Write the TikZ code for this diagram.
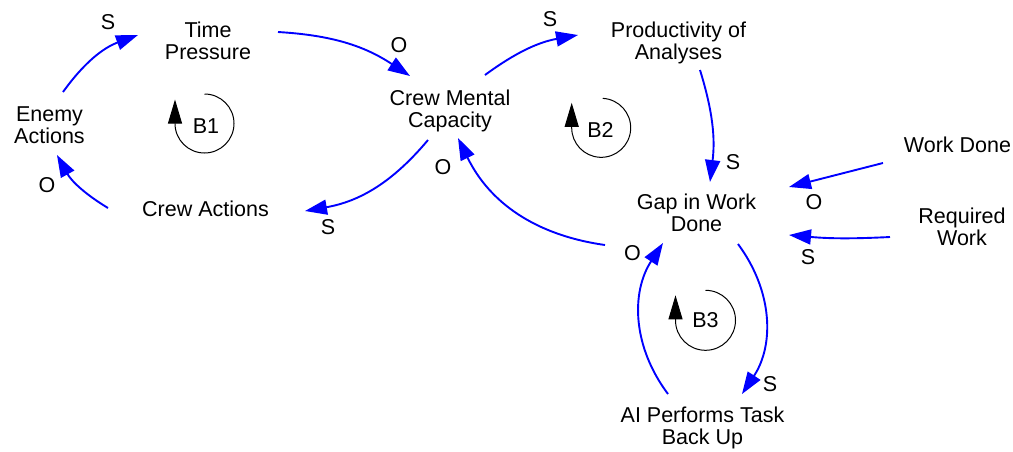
\documentclass[tikz,border=0pt]{standalone}
\usepackage{fontspec}
\setmainfont{Liberation Sans}
\usetikzlibrary{arrows.meta,calc}
\begin{document}
\begin{tikzpicture}[x=1pt,y=1pt,
  var/.style={font=\fontsize{21.5}{22}\selectfont, align=center, inner sep=0pt},
  pol/.style={font=\fontsize{21.5}{22}\selectfont, inner sep=0pt},
  link/.style={draw=blue, line width=1.9pt, -{Triangle[length=22pt,width=15pt]}},
  loopc/.style={draw=black, line width=1pt, -{Triangle[length=24pt,width=14pt]}},
]
\useasboundingbox (0,0) rectangle (1013,-451);
% variables
\node[var] (tp)   at (208,-40.5)   {Time\\Pressure};
\node[var] (ea)   at (49.5,-125)   {Enemy\\Actions};
\node[var] (ca)   at (205.5,-209)  {Crew Actions};
\node[var] (cmc)  at (450,-111.4)  {Crew Mental\\Capacity};
\node[var] (prod) at (678.5,-42.8) {Productivity of\\Analyses};
\node[var] (gap)  at (696.5,-213)  {Gap in Work\\Done};
\node[var] (wd)   at (957.5,-144.5){Work Done};
\node[var] (rw)   at (962,-226.8)  {Required\\Work};
\node[var] (ai)   at (702.5,-428)  {AI Performs Task\\Back Up};
% links
\draw[link] ($(ea)+(13.5,33)$)    to[bend left=17] ($(tp)+(-70,5.5)$);
\draw[link] ($(tp)+(70,8.5)$)     to[bend left=15] ($(cmc)+(-40,35.4)$);
\draw[link] ($(cmc)+(35,36.4)$)   to[bend left=13] ($(prod)+(-100.5,7.8)$);
\draw[link] ($(prod)+(21.5,-27.2)$) to[bend left=12] ($(gap)+(13.5,31)$);
\draw[link] ($(wd)+(-74.5,-18.5)$) -- ($(gap)+(92.5,26)$);
\draw[link] ($(rw)+(-72,-10.2)$)  to[bend left=4] ($(gap)+(92.5,-22)$);
\draw[link] ($(gap)+(-91.5,-32)$) to[bend left=28] ($(cmc)+(8,-26.6)$);
\draw[link] ($(cmc)+(-22,-28.6)$) to[bend left=20] ($(ca)+(99.5,-2)$);
\draw[link] ($(ca)+(-97.5,1)$)    to[bend left=15] ($(ea)+(7.5,-30)$);
\draw[link] ($(gap)+(41.5,-31)$)  to[bend left=35] ($(ai)+(39.5,34)$);
\draw[link] ($(ai)+(-34.5,34)$)   to[bend left=35] ($(gap)+(-33.5,-30)$);
% polarities
\node[pol] (p1)  at (108,-22.5)  {S};
\node[pol] (p2)  at (399,-45.5)  {O};
\node[pol] (p3)  at (550,-19)    {S};
\node[pol] (p4)  at (733,-162.5) {S};
\node[pol] (p5)  at (814,-202)   {O};
\node[pol] (p6)  at (808,-257.5) {S};
\node[pol] (p7)  at (443,-167)   {O};
\node[pol] (p8)  at (328,-227.5) {S};
\node[pol] (p9)  at (47,-185.5)  {O};
\node[pol] (p10) at (770,-384)   {S};
\node[pol] (p11) at (632.5,-253) {O};
% loop markers
\node[pol] (b1) at (206,-125.8) {B1};
\node[pol] (b2) at (600.5,-130) {B2};
\node[pol] (b3) at (705.5,-320.5) {B3};
\coordinate (c1) at (204.5,-123.5);
\coordinate (c2) at (601.2,-127.8);
\coordinate (c3) at (705.5,-320.3);
\draw[loopc] ($(c1)+(90:29.5)$) arc[start angle=90,end angle=-180,radius=29.5] -- ++(0,24);
\draw[loopc] ($(c2)+(87:29.5)$) arc[start angle=87,end angle=-180,radius=29.5] -- ++(0,25);
\draw[loopc] ($(c3)+(90:30)$) arc[start angle=90,end angle=-180,radius=30] -- ++(0,25);
\end{tikzpicture}
\end{document}
